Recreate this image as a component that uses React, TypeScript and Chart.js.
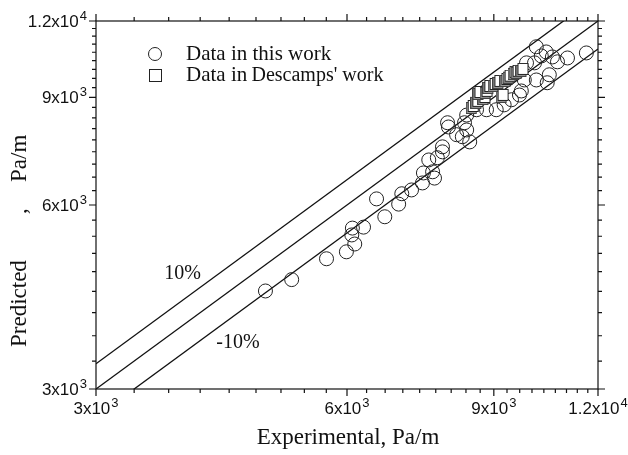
import React, { useEffect, useRef } from "react";
import { Chart, registerables } from "chart.js";

Chart.register(...registerables);

// ---------- data ----------
const axisMin = 3000;
const axisMax = 12000;
const majorTickValues = [3000, 6000, 9000, 12000];
const majorTickMantissa = ["3", "6", "9", "1.2"];
const majorTickExponent = ["3", "3", "3", "4"];
const minorPerInterval = 8;

const thisWorkExperimental = [
  4790, 5150, 5670, 5990, 6090, 6280, 6080, 6130, 6510, 6660, 6920, 6980, 7170,
  7390, 7410, 7600, 7640, 7520, 7700, 7810, 7810, 7940, 8120, 8250, 8350, 8420,
  7920, 8300, 8350, 8580, 8820, 9060, 9260, 9450, 9660, 9710, 9790, 10120,
  10430, 10490, 9850, 10070, 10120, 10260, 10400, 10580, 10730, 11030, 11620,
];
const thisWorkPredicted = [
  4340, 4530, 4900, 5030, 5500, 5520, 5360, 5180, 6140, 5740, 6020, 6260, 6350,
  6520, 6770, 6800, 6640, 7110, 7170, 7470, 7330, 8050, 7820, 7760, 7960, 7610,
  8180, 8180, 8420, 8590, 8590, 8590, 8750, 8920, 9080, 9220, 9610, 9610,
  9510, 9800, 10250, 10250, 10890, 10520, 10680, 10480, 10290, 10440, 10640,
];

const descampsExperimental = [
  8490, 8600, 8770, 8650, 8820, 8890, 9020, 9140, 9320, 9400, 9530, 9610, 9740,
  9220,
];
const descampsPredicted = [
  8680, 8850, 8980, 9150, 9190, 9360, 9430, 9540, 9610, 9730, 9870, 9910, 9980,
  9050,
];

const bandFactors = [1.1, 1.0, 0.9];
const bandLabels = ["10%", "-10%"];
const bandLabelPositions = [
  { x: 3810, y: 4630 },
  { x: 4440, y: 3570 },
];

const legendLabels = ["Data in this work", "Data in ", "Descamps' work"];
const xTitle = "Experimental, Pa/m";
const yTitleParts = ["Predicted", ",", "Pa/m"];

// ---------- helpers ----------
function buildTicks() {
  const out: { v: number; major: boolean }[] = [];
  for (let i = 0; i < majorTickValues.length; i++) {
    out.push({ v: majorTickValues[i], major: true });
    if (i < majorTickValues.length - 1) {
      const a = majorTickValues[i];
      const b = majorTickValues[i + 1];
      const step = (b - a) / (minorPerInterval + 1);
      for (let k = 1; k <= minorPerInterval; k++) out.push({ v: a + k * step, major: false });
    }
  }
  return out;
}

const TICK_FONT = '17px "Liberation Sans", Arial, sans-serif';
const SUP_FONT = '13px "Liberation Sans", Arial, sans-serif';
const SERIF = '"Liberation Serif", "Times New Roman", serif';

function drawSci(
  ctx: CanvasRenderingContext2D,
  mant: string,
  exp: string,
  x: number,
  y: number,
  align: "center" | "right"
) {
  const main = `${mant}x10`;
  ctx.font = TICK_FONT;
  const w1 = ctx.measureText(main).width;
  ctx.font = SUP_FONT;
  const w2 = ctx.measureText(exp).width;
  const total = w1 + w2 + 1;
  const start = align === "center" ? x - total / 2 : x - total;
  ctx.textAlign = "left";
  ctx.textBaseline = "alphabetic";
  ctx.font = TICK_FONT;
  ctx.fillText(main, start, y);
  ctx.font = SUP_FONT;
  ctx.fillText(exp, start + w1 + 1, y - 7);
}

function makeBoxMarker(): HTMLCanvasElement {
  const size = 14;
  const c = document.createElement("canvas");
  c.width = size;
  c.height = size;
  const g = c.getContext("2d")!;
  g.lineWidth = 1;
  // back face (shadow)
  g.fillStyle = "#9a9a9a";
  g.strokeStyle = "#444";
  g.fillRect(0.5, 2.5, 10, 11);
  g.strokeRect(0.5, 2.5, 10, 11);
  // front face
  g.fillStyle = "#fff";
  g.strokeStyle = "#222";
  g.fillRect(2.5, 0.5, 10, 11);
  g.strokeRect(2.5, 0.5, 10, 11);
  return c;
}

const overlayPlugin = {
  id: "overlay",
  afterDraw(chart: any) {
    const { ctx, chartArea: ca, scales } = chart;
    const xs = scales.x;
    const ys = scales.y;
    ctx.save();
    ctx.strokeStyle = "#111";
    ctx.fillStyle = "#111";
    ctx.lineWidth = 1.2;
    ctx.strokeRect(ca.left, ca.top, ca.right - ca.left, ca.bottom - ca.top);

    const ticks = buildTicks();
    ctx.beginPath();
    for (const t of ticks) {
      const len = t.major ? 7 : 4;
      const px = xs.getPixelForValue(t.v);
      const py = ys.getPixelForValue(t.v);
      ctx.moveTo(px, ca.bottom);
      ctx.lineTo(px, ca.bottom + len);
      ctx.moveTo(px, ca.top);
      ctx.lineTo(px, ca.top - len);
      ctx.moveTo(ca.left - len, py);
      ctx.lineTo(ca.left, py);
      ctx.moveTo(ca.right, py);
      ctx.lineTo(ca.right + len, py);
    }
    ctx.stroke();

    // tick labels
    for (let i = 0; i < majorTickValues.length; i++) {
      const v = majorTickValues[i];
      const px = xs.getPixelForValue(v);
      drawSci(ctx, majorTickMantissa[i], majorTickExponent[i], px, ca.bottom + 25, "center");
      const py = ys.getPixelForValue(v);
      drawSci(ctx, majorTickMantissa[i], majorTickExponent[i], ca.left - 9, py + 6, "right");
    }

    // axis titles
    ctx.font = `23px ${SERIF}`;
    ctx.textAlign = "center";
    ctx.textBaseline = "alphabetic";
    ctx.fillText(xTitle, 348, 444);
    ctx.save();
    ctx.translate(26, 0);
    ctx.rotate(-Math.PI / 2);
    ctx.textAlign = "left";
    ctx.fillText(yTitleParts[0], -347, 0);
    ctx.fillText(yTitleParts[1], -214, 0);
    ctx.fillText(yTitleParts[2], -182, 0);
    ctx.restore();

    // band labels
    ctx.font = `20px ${SERIF}`;
    ctx.textAlign = "center";
    ctx.textBaseline = "middle";
    for (let i = 0; i < bandLabels.length; i++) {
      const p = bandLabelPositions[i];
      ctx.fillText(bandLabels[i], xs.getPixelForValue(p.x), ys.getPixelForValue(p.y));
    }

    // legend
    ctx.lineWidth = 1;
    ctx.strokeStyle = "#222";
    ctx.beginPath();
    ctx.arc(155, 54, 6.5, 0, Math.PI * 2);
    ctx.stroke();
    ctx.fillStyle = "#fff";
    ctx.fillRect(149.5, 69.5, 12, 12);
    ctx.strokeRect(149.5, 69.5, 12, 12);
    ctx.fillStyle = "#111";
    ctx.textAlign = "left";
    ctx.textBaseline = "alphabetic";
    ctx.font = `21px ${SERIF}`;
    ctx.fillText(legendLabels[0], 186, 60);
    ctx.fillText(legendLabels[1], 186, 81);
    const w = ctx.measureText(legendLabels[1]).width;
    ctx.font = `20px ${SERIF}`;
    ctx.fillText(legendLabels[2], 186 + w - 1, 81);
    ctx.restore();
  },
};

export default function App() {
  const ref = useRef<HTMLCanvasElement | null>(null);

  useEffect(() => {
    document.body.style.margin = "0";
    const canvas = ref.current;
    if (!canvas) return;

    const boxMarker = makeBoxMarker();

    const lineDatasets = bandFactors.map((f) => ({
      type: "scatter" as const,
      data: [
        { x: axisMin, y: axisMin * f },
        { x: axisMax, y: axisMax * f },
      ],
      showLine: true,
      borderColor: "#111",
      borderWidth: 1.3,
      pointRadius: 0,
      fill: false,
    }));

    const chart = new Chart(canvas, {
      type: "scatter",
      data: {
        datasets: [
          {
            data: descampsExperimental.map((x, i) => ({ x, y: descampsPredicted[i] })),
            pointStyle: boxMarker,
            pointRadius: 7,
            backgroundColor: "#fff",
            borderColor: "#333",
            borderWidth: 1,
          },
          {
            data: thisWorkExperimental.map((x, i) => ({ x, y: thisWorkPredicted[i] })),
            pointStyle: "circle",
            pointRadius: 7,
            backgroundColor: "rgba(0,0,0,0)",
            borderColor: "#222",
            borderWidth: 1,
          },
          ...lineDatasets,
        ],
      },
      options: {
        animation: false,
        responsive: false,
        events: [],
        layout: { padding: { top: 21, right: 30, left: 0, bottom: 0 } },
        plugins: { legend: { display: false }, tooltip: { enabled: false } },
        scales: {
          x: {
            type: "logarithmic",
            min: axisMin,
            max: axisMax,
            grid: { display: false },
            border: { display: false },
            ticks: { display: false },
            afterFit: (s: any) => {
              s.height = 66;
            },
          },
          y: {
            type: "logarithmic",
            min: axisMin,
            max: axisMax,
            grid: { display: false },
            border: { display: false },
            ticks: { display: false },
            afterFit: (s: any) => {
              s.width = 96;
            },
          },
        },
      },
      plugins: [overlayPlugin],
    } as any);

    return () => chart.destroy();
  }, []);

  return (
    <div style={{ width: 628, height: 455, background: "#fff" }}>
      <canvas ref={ref} width={628} height={455} />
    </div>
  );
}
